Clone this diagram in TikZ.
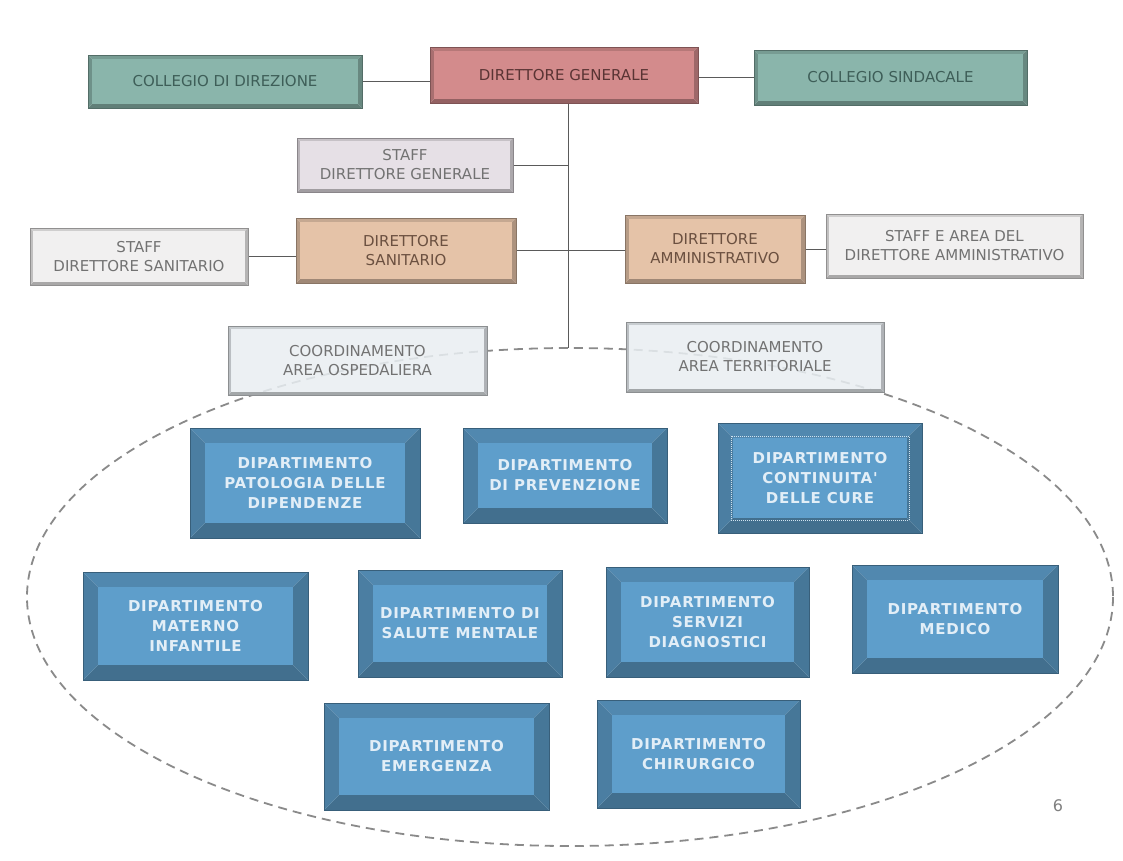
\documentclass[tikz,border=0pt]{standalone}
\usepackage{fontspec}
\setmainfont{DejaVu Sans}
\newfontfamily\deptfont[LetterSpace=5]{DejaVu Sans Bold}
\pgfdeclarelayer{back}
\pgfdeclarelayer{bg}
\pgfsetlayers{back,bg,main}
\definecolor{collc}{HTML}{8AB5AB}
\definecolor{collt}{HTML}{3E5E58}
\definecolor{dgc}{HTML}{D38B8C}
\definecolor{dgt}{HTML}{5A3434}
\definecolor{sdgc}{HTML}{E6E0E6}
\definecolor{dirc}{HTML}{E5C3A8}
\definecolor{dirt}{HTML}{6B5040}
\definecolor{staffc}{HTML}{F1F0F0}
\definecolor{stafft}{HTML}{727272}
\definecolor{coordc}{HTML}{E9EEF2}
\definecolor{deptc}{HTML}{5E9ECB}
\definecolor{deptt}{HTML}{E2EEF7}
\definecolor{connc}{HTML}{5A5A5A}
\definecolor{ellc}{HTML}{8A8A8A}
\tikzset{
  conn/.style={draw=connc, line width=1pt},
  topbox/.style={inner sep=0pt, outer sep=0pt, align=center, font=\fontsize{15}{19}\selectfont},
  deptbox/.style={inner sep=0pt, outer sep=0pt, align=center, text=deptt, font=\fontsize{15}{20}\deptfont},
  ellipsestyle/.style={draw=ellc, line width=1.8pt, dash pattern=on 9pt off 6pt}
}
% #1 name, #2 x1, #3 y1, #4 x2, #5 y2, #6 bevel, #7 colour, #8 style, #9 text
\newcommand\bevbox[9]{%
  \coordinate (#1-nw) at (#2,#3);
  \coordinate (#1-ne) at (#4,#3);
  \coordinate (#1-sw) at (#2,#5);
  \coordinate (#1-se) at (#4,#5);
  \fill[#7!86!black] (#1-nw) -- (#1-ne) -- ([shift={(-#6pt,-#6pt)}]#1-ne) -- ([shift={(#6pt,-#6pt)}]#1-nw) -- cycle;
  \fill[#7!70!black] (#1-sw) -- (#1-se) -- ([shift={(-#6pt,#6pt)}]#1-se) -- ([shift={(#6pt,#6pt)}]#1-sw) -- cycle;
  \fill[#7!80!black] (#1-nw) -- (#1-sw) -- ([shift={(#6pt,#6pt)}]#1-sw) -- ([shift={(#6pt,-#6pt)}]#1-nw) -- cycle;
  \fill[#7!75!black] (#1-ne) -- (#1-se) -- ([shift={(-#6pt,#6pt)}]#1-se) -- ([shift={(-#6pt,-#6pt)}]#1-ne) -- cycle;
  \draw[#7!60!black, line width=0.5pt] (#1-nw) rectangle (#1-se);
  \node[#8, fill=#7, minimum width={(#4-#2-2*#6)*1pt}, minimum height={(#5-#3-2*#6)*1pt}]
    (#1) at ({(#2+#4)/2},{(#3+#5)/2}) {#9};
}
\begin{document}
\begin{tikzpicture}[x=1pt,y=-1pt]
\begin{pgfonlayer}{back}
\fill[white] (0,0) rectangle (1123,860);
\end{pgfonlayer}
\useasboundingbox (0,0) rectangle (1123,860);
% dashed ellipse
\draw[ellipsestyle] (570,597) ellipse [x radius=543, y radius=249];
% top row
\bevbox{cdir}{88}{55}{362}{108}{4}{collc}{topbox, text=collt}{COLLEGIO DI DIREZIONE}
\bevbox{dg}{430}{47}{698}{103}{4}{dgc}{topbox, text=dgt}{DIRETTORE GENERALE}
\bevbox{csind}{754}{50}{1027}{105}{4}{collc}{topbox, text=collt}{COLLEGIO SINDACALE}
% staff DG
\bevbox{sdg}{297}{138}{513}{192}{3}{sdgc}{topbox, text=stafft}{STAFF\\DIRETTORE GENERALE}
% directors
\bevbox{ds}{296}{218}{516}{283}{4}{dirc}{topbox, text=dirt}{DIRETTORE\\SANITARIO}
\bevbox{da}{625}{215}{805}{283}{4}{dirc}{topbox, text=dirt}{DIRETTORE\\AMMINISTRATIVO}
\bevbox{sds}{30}{228}{248}{285}{3}{staffc}{topbox, text=stafft}{STAFF\\DIRETTORE SANITARIO}
\bevbox{sda}{826}{214}{1083}{278}{3}{staffc}{topbox, text=stafft}{STAFF E AREA DEL\\DIRETTORE AMMINISTRATIVO}
% coordinamento
\bevbox{cosp}{228}{326}{487}{395}{3}{coordc}{topbox, text=stafft, fill opacity=0.85, text opacity=1}{COORDINAMENTO\\AREA OSPEDALIERA}
\bevbox{cter}{626}{322}{884}{392}{3}{coordc}{topbox, text=stafft, fill opacity=0.85, text opacity=1}{COORDINAMENTO\\AREA TERRITORIALE}
% departments
\bevbox{dpat}{190}{428}{420}{538}{15}{deptc}{deptbox}{DIPARTIMENTO\\PATOLOGIA DELLE\\DIPENDENZE}
\bevbox{dprev}{463}{428}{667}{523}{15}{deptc}{deptbox}{DIPARTIMENTO\\DI PREVENZIONE}
\bevbox{dcont}{718}{423}{922}{533}{15}{deptc}{deptbox}{DIPARTIMENTO\\CONTINUITA'\\DELLE CURE}
\draw[white!70!deptc, line width=1pt, densely dotted] (731,436) rectangle (909,520);
\bevbox{dmat}{83}{572}{308}{680}{15}{deptc}{deptbox}{DIPARTIMENTO\\MATERNO\\INFANTILE}
\bevbox{dsal}{358}{570}{562}{677}{15}{deptc}{deptbox}{DIPARTIMENTO DI\\SALUTE MENTALE}
\bevbox{dserv}{606}{567}{809}{677}{15}{deptc}{deptbox}{DIPARTIMENTO\\SERVIZI\\DIAGNOSTICI}
\bevbox{dmed}{852}{565}{1058}{673}{15}{deptc}{deptbox}{DIPARTIMENTO\\MEDICO}
\bevbox{demer}{324}{703}{549}{810}{15}{deptc}{deptbox}{DIPARTIMENTO\\EMERGENZA}
\bevbox{dchir}{597}{700}{800}{808}{15}{deptc}{deptbox}{DIPARTIMENTO\\CHIRURGICO}
% page number
\node[text=gray, font=\fontsize{16}{16}\selectfont] (pnum) at (1058,806) {6};
% connectors
\coordinate (vend) at (568,348);
\begin{pgfonlayer}{bg}
\draw[conn] (cdir.east) -- (cdir.east -| dg.west);
\draw[conn] (csind.west) -- (csind.west -| dg.east);
\draw[conn] (dg.south -| vend) -- (vend);
\draw[conn] (sdg.east) -- (sdg.east -| vend);
\draw[conn] (ds.east) -- (ds.east -| da.west);
\draw[conn] (sds.east) -- (sds.east -| ds.west);
\draw[conn] (da.east) -- (da.east -| sda.west);
\end{pgfonlayer}
\end{tikzpicture}
\end{document}
